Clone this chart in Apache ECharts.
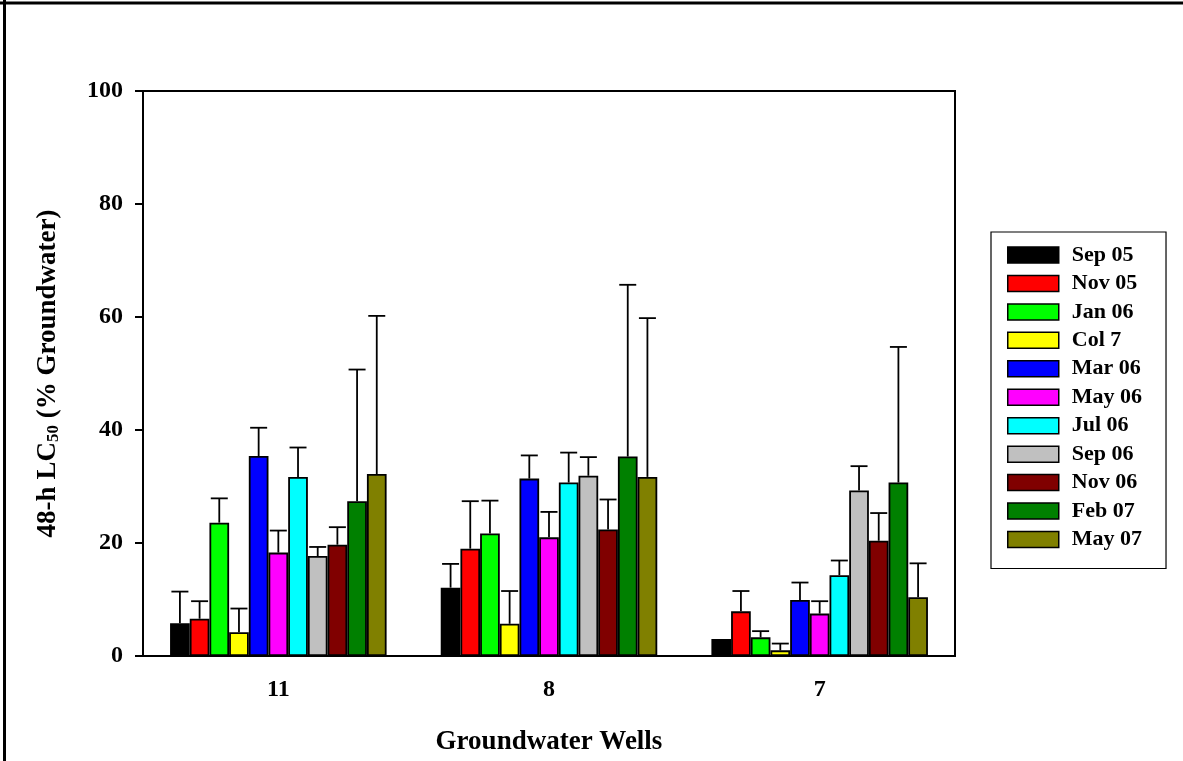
<!DOCTYPE html>
<html>
<head>
<meta charset="utf-8">
<script src="https://cdn.jsdelivr.net/npm/echarts@6/dist/echarts.min.js"></script>
<style>
html,body{margin:0;padding:0;background:#fff;}
#main{width:1183px;height:761px;}
</style>
</head>
<body>
<div id="main"></div>
<script>
// ---- data ----
var wells = ['11', '8', '7'];
var seriesNames = ['Sep 05','Nov 05','Jan 06','Col 7','Mar 06','May 06','Jul 06','Sep 06','Nov 06','Feb 07','May 07'];
var seriesColors = ['#000000','#ff0000','#00ff00','#ffff00','#0000ff','#ff00ff','#00ffff','#c0c0c0','#800000','#008000','#808000'];
// mean values per series, per well [11, 8, 7]
var sep05 = [5.8, 12.1, 3.0];
var nov05 = [6.6, 19.0, 7.9];
var jan06 = [23.6, 21.7, 3.3];
var col7  = [4.2, 5.7, 1.0];
var mar06 = [35.4, 31.4, 9.9];
var may06 = [18.3, 21.0, 7.5];
var jul06 = [31.7, 30.7, 14.3];
var sep06 = [17.7, 31.9, 29.3];
var nov06 = [19.7, 22.4, 20.4];
var feb07 = [27.4, 35.3, 30.7];
var may07 = [32.2, 31.7, 10.4];
// upper error bar end (value + error) per series, per well
var sep05Err = [11.4, 16.3, null];
var nov05Err = [9.7, 27.4, 11.5];
var jan06Err = [27.9, 27.5, 4.4];
var col7Err  = [8.4, 11.5, 2.2];
var mar06Err = [40.4, 35.5, 13.0];
var may06Err = [22.2, 25.5, 9.7];
var jul06Err = [36.9, 36.0, 16.9];
var sep06Err = [19.3, 35.2, 33.6];
var nov06Err = [22.8, 27.7, 25.3];
var feb07Err = [50.7, 65.7, 54.7];
var may07Err = [60.2, 59.8, 16.4];
var yTicks = [0, 20, 40, 60, 80, 100];

var values = [sep05, nov05, jan06, col7, mar06, may06, jul06, sep06, nov06, feb07, may07];
var errs = [sep05Err, nov05Err, jan06Err, col7Err, mar06Err, may06Err, jul06Err, sep06Err, nov06Err, feb07Err, may07Err];

var nSeries = seriesNames.length;
var catGap = 0.2;
var font = '"Liberation Serif","Times New Roman",serif';

var series = [];
seriesNames.forEach(function (name, i) {
  series.push({
    name: name,
    type: 'bar',
    data: values[i],
    barGap: '0%',
    barCategoryGap: '20%',
    itemStyle: { color: seriesColors[i], borderColor: '#000', borderWidth: 1.8 },
    emphasis: { disabled: true },
    z: 2
  });
});

// error bars
var errData = [];
errs.forEach(function (arr, si) {
  arr.forEach(function (e, ci) {
    if (e != null) errData.push([ci, values[si][ci], e, si]);
  });
});
series.push({
  type: 'custom',
  name: 'err',
  data: errData,
  z: 1,
  silent: true,
  renderItem: function (params, api) {
    var ci = api.value(0), v = api.value(1), e = api.value(2), si = api.value(3);
    var band = api.size([1, 0])[0];
    var groupW = band * (1 - catGap);
    var barW = groupW / nSeries;
    var c = api.coord([ci, v]);
    var top = api.coord([ci, e]);
    var x = c[0] - groupW / 2 + (si + 0.5) * barW;
    var capHalf = 8.5;
    var st = { stroke: '#000', lineWidth: 1.8 };
    return {
      type: 'group',
      children: [
        { type: 'line', shape: { x1: x, y1: c[1], x2: x, y2: top[1] }, style: st },
        { type: 'line', shape: { x1: x - capHalf, y1: top[1], x2: x + capHalf, y2: top[1] }, style: st }
      ]
    };
  },
  encode: { x: 0, y: 2 }
});

var chart = echarts.init(document.getElementById('main'), null, { renderer: 'canvas' });
chart.setOption({
  animation: false,
  backgroundColor: '#fff',
  grid: {
    left: 143, right: 228, top: 91, bottom: 103,
    show: true, borderColor: '#000', borderWidth: 2, backgroundColor: 'transparent'
  },
  legend: {
    orient: 'vertical',
    left: 991, top: 232,
    data: seriesNames,
    itemWidth: 51, itemHeight: 16, itemGap: 6.45,
    padding: [12, 24, 18, 16],
    borderColor: '#000', borderWidth: 1.2,
    itemStyle: { borderColor: '#000', borderWidth: 1.5 },
    textStyle: { fontFamily: font, fontWeight: 'bold', fontSize: 22, color: '#000', padding: [0, 0, 0, 8] },
    selectedMode: false,
    icon: 'rect'
  },
  xAxis: {
    type: 'category',
    data: wells,
    boundaryGap: true,
    axisLine: { lineStyle: { color: '#000', width: 2 } },
    axisTick: { alignWithLabel: true, length: 8, lineStyle: { color: '#000', width: 2 } },
    axisLabel: { fontFamily: font, fontWeight: 'bold', fontSize: 24, color: '#000', margin: 22 },
    name: 'Groundwater Wells',
    nameLocation: 'middle',
    nameGap: 73,
    nameTextStyle: { fontFamily: font, fontWeight: 'bold', fontSize: 27, color: '#000' }
  },
  yAxis: {
    type: 'value',
    min: yTicks[0], max: yTicks[yTicks.length - 1], interval: 20,
    splitLine: { show: false },
    axisLine: { show: true, lineStyle: { color: '#000', width: 2 } },
    axisTick: { show: true, length: 8, lineStyle: { color: '#000', width: 2 } },
    axisLabel: { fontFamily: font, fontWeight: 'bold', fontSize: 24, color: '#000', margin: 20 },
    name: '{b|48-h LC}{s|50}{b| (% Groundwater)}',
    nameLocation: 'middle',
    nameRotate: 90,
    nameGap: 81,
    nameTextStyle: {
      fontFamily: font, fontWeight: 'bold', fontSize: 27, color: '#000',
      rich: {
        b: { fontFamily: font, fontWeight: 'bold', fontSize: 27, color: '#000' },
        s: { fontFamily: font, fontWeight: 'bold', fontSize: 17, color: '#000', padding: [11, 0, 0, 0] }
      }
    }
  },
  graphic: [
    { type: 'line', shape: { x1: 0, y1: 3, x2: 1183, y2: 3 }, style: { stroke: '#000', lineWidth: 3 }, silent: true },
    { type: 'line', shape: { x1: 4.5, y1: 0, x2: 4.5, y2: 761 }, style: { stroke: '#000', lineWidth: 3 }, silent: true }
  ],
  series: series
});
</script>
</body>
</html>
